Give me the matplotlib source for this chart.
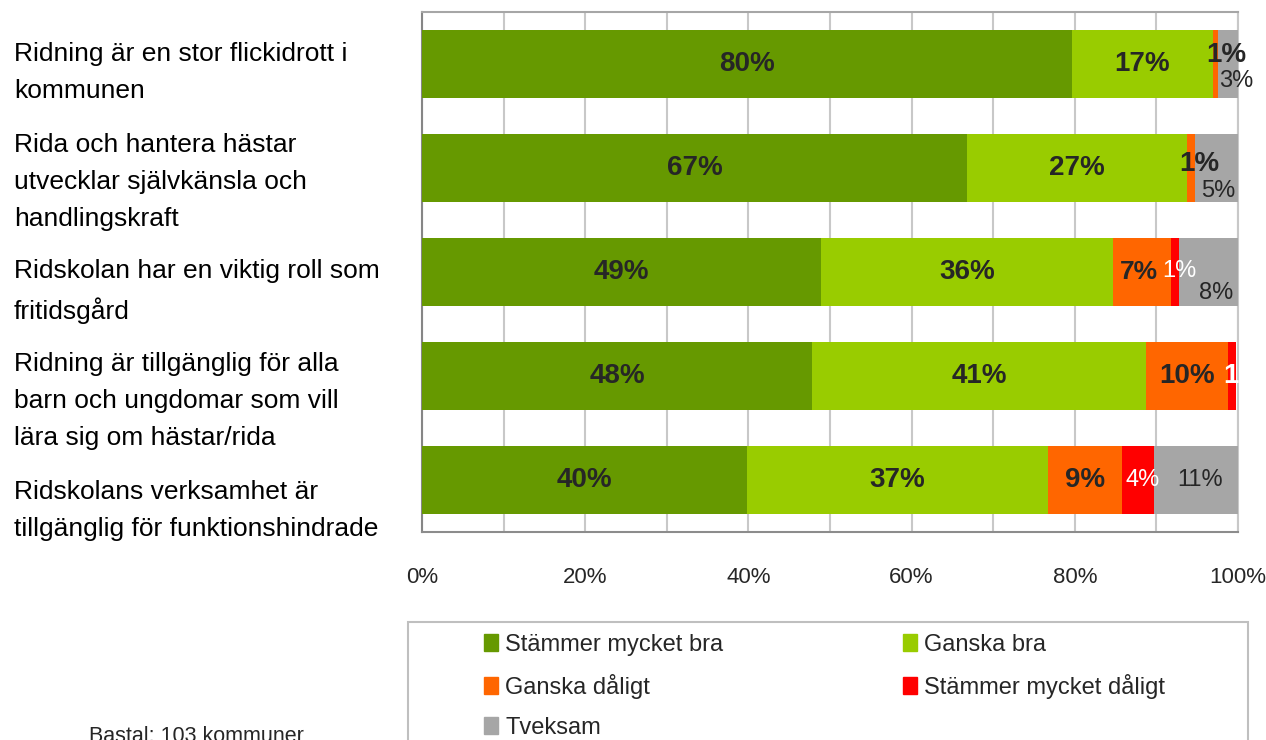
import numpy as np
import matplotlib
matplotlib.use("Agg")
import matplotlib.pyplot as plt
from matplotlib.patches import Patch, Rectangle
from matplotlib import transforms

# data (percent of municipalities)
statements = ["Ridning är en stor flickidrott i\nkommunen",
              "Rida och hantera hästar\nutvecklar självkänsla och\nhandlingskraft",
              "Ridskolan har en viktig roll som\nfritidsgård",
              "Ridning är tillgänglig för alla\nbarn och ungdomar som vill\nlära sig om hästar/rida",
              "Ridskolans verksamhet är\ntillgänglig för funktionshindrade"]
series = ["Stämmer mycket bra", "Ganska bra", "Ganska dåligt",
          "Stämmer mycket dåligt", "Tveksam"]
very_good = [79.6, 66.8, 48.9, 47.8, 39.8]
fairly_good = [17.3, 27.0, 35.8, 40.9, 36.9]
fairly_bad = [0.7, 0.9, 7.1, 10.1, 9.1]
very_bad = [0.0, 0.0, 1.0, 1.0, 3.9]
unsure = [2.6, 5.3, 7.6, 0.0, 10.6]
xticks = [0, 20, 40, 60, 80, 100]
n_base = "Bastal: 103 kommuner"

colors = ["#669900", "#99CC00", "#FF6600", "#FF0000", "#A6A6A6"]

# label styling per segment: colour, weight
lab_color = ["#262626", "#262626", "#262626", "white", "#262626"]
lab_weight = ["bold", "bold", "bold", "normal", "normal"]
# nudges (pixels) for the crowded labels at the right end
nudge = {(0, 2): (11, -9), (0, 4): (7, 17),
         (1, 2): (8, -4), (1, 4): (2, 23),
         (2, 2): (-3, 0), (2, 3): (4, -1), (2, 4): (6, 21),
         (3, 3): (11, 0),
         (4, 3): (5, 0), (4, 4): (3, 0)}
bold_override = {(3, 3)}

plt.rcParams["font.family"] = ["Liberation Sans", "DejaVu Sans"]

W, H = 1266, 740
fig = plt.figure(figsize=(W / 100, H / 100), dpi=100, facecolor="w")

ax = fig.add_axes([422 / W, (H - 532) / H, 816 / W, 520 / H])
data = [very_good, fairly_good, fairly_bad, very_bad, unsure]
y = np.arange(len(statements))
left = np.zeros(len(statements))
for j, vals in enumerate(data):
    vals = np.array(vals)
    ax.barh(y, vals, left=left, height=0.663, color=colors[j],
            label=series[j], zorder=3)
    for i in range(len(statements)):
        if vals[i] <= 0:
            continue
        dx, dy = nudge.get((i, j), (0, 0))
        weight = "bold" if (i, j) in bold_override else lab_weight[j]
        size = 20 if weight == "bold" else 17
        if (i, j) == (2, 2):
            size = 19
        ax.annotate("%d%%" % int(vals[i] + 0.5),
                    xy=(left[i] + vals[i] / 2, y[i]),
                    xytext=(dx * 0.72, -dy * 0.72), textcoords="offset points",
                    ha="center", va="center", color=lab_color[j],
                    fontsize=size, fontweight=weight,
                    zorder=5, annotation_clip=False)
    left += vals

ax.set_xlim(0, 100)
ax.set_ylim(len(statements) - 0.5, -0.5)
ax.set_xticks(xticks)
ax.set_xticklabels(["%d%%" % t for t in xticks], fontsize=16, color="#262626")
ax.set_xticks(np.arange(10, 100, 20), minor=True)
ax.set_yticks([])
ax.tick_params(axis="x", which="both", length=0, pad=25)
ax.grid(axis="x", which="both", color="#C8C8C8", lw=1.5, zorder=0)
ax.spines["left"].set_color("#868686")
ax.spines["top"].set_color("#A6A6A6")
ax.spines["bottom"].set_color("#8C8C8C")
ax.spines["right"].set_color("#C8C8C8")
for s in ax.spines.values():
    s.set_linewidth(1.5)

# statement labels
lax = fig.add_axes([0, (H - 565) / H, 0.33, 547 / H])
lax.set_ylim(len(statements) - 0.5, -0.5)
lax.axis("off")
tr = transforms.blended_transform_factory(fig.transFigure, lax.transData)
for i, s in enumerate(statements):
    lax.text(14 / W, i, s, transform=tr, ha="left", va="center",
             fontsize=19, linespacing=1.7, color="black")

# legend
fig.add_artist(Rectangle((408 / W, -0.05), 840 / W, (H - 622) / H + 0.05,
                         transform=fig.transFigure, fill=False,
                         edgecolor="#BFBFBF", lw=1.5))
handles = [Patch(color=c) for c in colors]
order = [0, 2, 4, 1, 3]
fig.legend([handles[k] for k in order], [series[k] for k in order],
           ncol=2, loc="upper left", bbox_to_anchor=(484 / W, (H - 634) / H),
           frameon=False, borderpad=0, borderaxespad=0,
           handlelength=0.6, handleheight=0.72, handletextpad=0.3,
           labelspacing=0.76, columnspacing=7.6,
           prop={"size": 17}, labelcolor="#262626")

fig.text(196 / W, (H - 726) / H, n_base, ha="center", va="top",
         fontsize=15.5, color="#262626")

fig.savefig("out.png", dpi=100)
